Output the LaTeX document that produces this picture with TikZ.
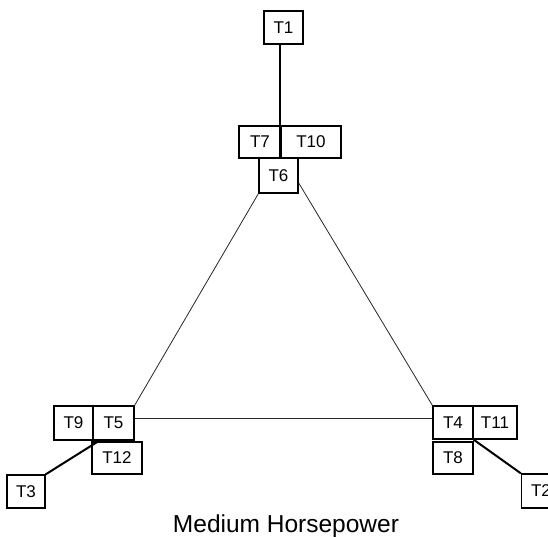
\documentclass[tikz,border=0pt]{standalone}
\usepackage{fontspec}
\setmainfont{Liberation Sans}
\begin{document}
\begin{tikzpicture}[x=1pt,y=-1pt,
  tbox/.style={draw=black,line width=1.2pt,inner sep=0pt,font=\fontsize{17}{17}\selectfont,fill=white},
  thin/.style={draw=black!85,line width=0.8pt},
  thick/.style={draw=black,line width=2pt}]
\useasboundingbox (0,0) rectangle (548,537);
\node[tbox,minimum width=39pt,minimum height=33pt] (T1) at (283.5,27.5) {T1};
\node[tbox,minimum width=42pt,minimum height=32pt] (T7) at (260,142) {T7};
\node[tbox,minimum width=60pt,minimum height=32pt] (T10) at (311,142) {T10};
\node[tbox,minimum width=39pt,minimum height=35pt] (T6) at (278.5,175.5) {T6};
\node[tbox,minimum width=39pt,minimum height=34pt] (T9) at (73.5,423) {T9};
\node[tbox,minimum width=41pt,minimum height=34pt] (T5) at (113.5,423) {T5};
\node[tbox,minimum width=50pt,minimum height=32pt] (T12) at (117,458) {T12};
\node[tbox,minimum width=38pt,minimum height=33pt] (T3) at (26,491.5) {T3};
\node[tbox,minimum width=40pt,minimum height=33pt] (T4) at (453,422.5) {T4};
\node[tbox,minimum width=44pt,minimum height=33pt] (T11) at (495,422.5) {T11};
\node[tbox,minimum width=40pt,minimum height=32pt] (T8) at (453,458) {T8};
\node[tbox,minimum width=39pt,minimum height=34pt] (T2) at (541,491) {T2};
\node[font=\fontsize{24.5}{24.5}\selectfont,anchor=base] (title) at (286,532) {Medium Horsepower};
\draw[thick] (T1.south -| T10.west) -- (T6.north -| T10.west);
\draw[thin] (T6.south west) -- (T5.north east);
\draw[thin] (T6.-20) -- (T4.north west);
\draw[thin] ([yshift=5pt]T5.east) -- ([yshift=4.5pt]T4.west);
\draw[thick] (T3.north east) -- ([xshift=7pt]T5.south west);
\draw[thick] (T4.south east) -- (T2.north west);
\end{tikzpicture}
\end{document}
